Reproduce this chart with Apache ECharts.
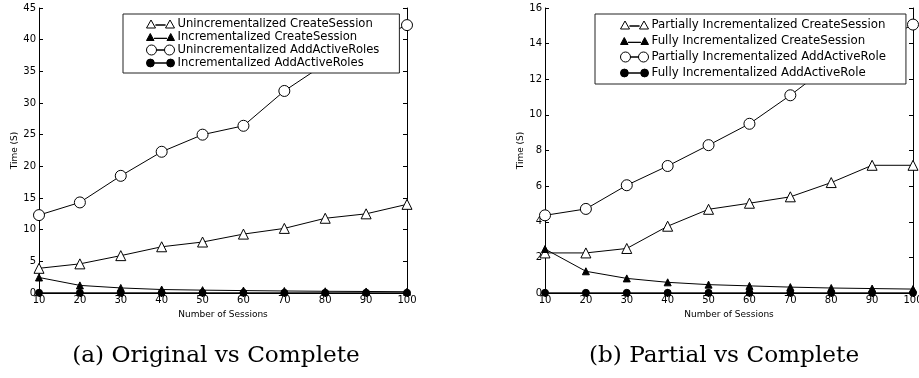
<!DOCTYPE html>
<html><head><meta charset="utf-8">
<script src="https://cdn.jsdelivr.net/npm/echarts@6/dist/echarts.min.js"></script>
<style>html,body{margin:0;padding:0;background:#fff}#c{width:919px;height:378px}</style>
</head><body><div id="c"></div>
<script>
const sessions = [10,20,30,40,50,60,70,80,90,100];
// Panel (a)
const aUnincCreate = [3.9,4.6,5.9,7.3,8.05,9.3,10.2,11.8,12.5,14.0];
const aIncCreate   = [2.45,1.2,0.8,0.55,0.45,0.38,0.32,0.27,0.24,0.2];
const aUnincAdd    = [12.3,14.3,18.5,22.3,25.0,26.4,31.9,36.2,39.4,42.3];
const aIncAdd      = [0.03,0.03,0.03,0.03,0.03,0.03,0.03,0.03,0.03,0.03];
// Panel (b)
const bPartCreate  = [2.25,2.25,2.5,3.75,4.7,5.04,5.4,6.2,7.17,7.17];
const bFullCreate  = [2.47,1.22,0.82,0.6,0.47,0.4,0.33,0.28,0.25,0.22];
const bPartAdd     = [4.36,4.72,6.05,7.13,8.3,9.5,11.1,12.85,13.9,15.07];
const bFullAdd     = [0.01,0.01,0.01,0.01,0.01,0.01,0.01,0.01,0.01,0.01];
const aTicksY = [0,5,10,15,20,25,30,35,40,45];
const bTicksY = [0,2,4,6,8,10,12,14,16];
const namesA = ['Unincrementalized CreateSession','Incrementalized CreateSession','Unincrementalized AddActiveRoles','Incrementalized AddActiveRoles'];
const namesB = ['Partially Incrementalized CreateSession','Fully Incrementalized CreateSession','Partially Incrementalized AddActiveRole','Fully Incrementalized AddActiveRole'];
const captions = ['(a) Original vs Complete','(b) Partial vs Complete'];

const F = 'DejaVu Sans';
const triIcon = 'path://M0,10 L4.5,2 L9,10 Z M9,7 L19,7 Z M19,10 L23.5,2 L28,10 Z';
const triFill = 'path://M1,10 L4.5,3.5 L8,10 Z M8,8 L20,8 Z M20,10 L23.5,3.5 L27,10 Z';
const cirIcon = 'path://M0,5 A5,5 0 1 1 10,5 A5,5 0 1 1 0,5 Z M10,5 L18,5 Z M18,5 A5,5 0 1 1 28,5 A5,5 0 1 1 18,5 Z';
const cirFill = 'path://M1.5,5 A3.5,3.5 0 1 1 8.5,5 A3.5,3.5 0 1 1 1.5,5 Z M8.5,5 L19.5,5 Z M19.5,5 A3.5,3.5 0 1 1 26.5,5 A3.5,3.5 0 1 1 19.5,5 Z';
const icons = [triIcon, triFill, cirIcon, cirFill];

function pair(arr){ return sessions.map((s,i)=>[s,arr[i]]); }
function mk(name, data, gi, sym, filled, size){
  return {name, type:'line', xAxisIndex:gi*2, yAxisIndex:gi*2, data:pair(data),
    symbol:sym, symbolSize:size, showSymbol:true, animation:false, z:3,
    lineStyle:{color:'#000', width:1},
    itemStyle:{color: filled?'#000':'#fff', borderColor:'#000', borderWidth:1}};
}
function xAx(gi){
  return [{type:'value', gridIndex:gi, min:10, max:100, interval:10, position:'bottom',
    name:'Number of Sessions', nameLocation:'middle', nameGap:13,
    nameTextStyle:{fontFamily:F, fontSize:9, color:'#000'},
    axisLine:{lineStyle:{color:'#000', width:1}}, axisTick:{inside:true, length:4, lineStyle:{color:'#000'}},
    axisLabel:{fontFamily:F, fontSize:10, color:'#000', margin:2}, splitLine:{show:false}},
   {type:'value', gridIndex:gi, min:10, max:100, interval:10, position:'top',
    axisLine:{lineStyle:{color:'#000', width:1}}, axisTick:{inside:true, length:4, lineStyle:{color:'#000'}},
    axisLabel:{show:false}, splitLine:{show:false}}];
}
function yAx(gi, max, interval){
  return [{type:'value', gridIndex:gi, min:0, max, interval, position:'left',
    name:'Time (S)', nameLocation:'middle', nameGap: gi===0?19:18,
    nameTextStyle:{fontFamily:F, fontSize:9, color:'#000'},
    axisLine:{show:true, lineStyle:{color:'#000', width:1}}, axisTick:{show:true, inside:true, length:4, lineStyle:{color:'#000'}},
    axisLabel:{fontFamily:F, fontSize:10, color:'#000', margin:3}, splitLine:{show:false}},
   {type:'value', gridIndex:gi, min:0, max, interval, position:'right',
    axisLine:{show:true, lineStyle:{color:'#000', width:1}}, axisTick:{show:true, inside:true, length:4, lineStyle:{color:'#000'}},
    axisLabel:{show:false}, splitLine:{show:false}}];
}
function legendFor(names, left, top, gap, fs, padL, padR, padT, padB){
  return {left, top, orient:'vertical', itemGap:gap, itemWidth:28, itemHeight:10,
    padding:[padT,padR,padB,padL], borderColor:'#222', borderWidth:1, backgroundColor:'#fff', borderRadius:0,
    textStyle:{fontFamily:F, fontSize:fs, color:'#000', padding:[0,0,0,-2]},
    itemStyle:{borderWidth:1, borderColor:'#000'},
    data:names.map((n,i)=>({name:n, icon: icons[i]}))};
}

const chart = echarts.init(document.getElementById('c'), null, {renderer:'canvas'});
chart.setOption({
  animation:false,
  backgroundColor:'#fff',
  title:[
    {text:captions[0], left:216, top:344, padding:0, textAlign:'center', textStyle:{fontFamily:'DejaVu Serif', fontSize:23.2, fontWeight:'normal', color:'#000'}},
    {text:captions[1], left:724, top:344, padding:0, textAlign:'center', textStyle:{fontFamily:'DejaVu Serif', fontSize:23.2, fontWeight:'normal', color:'#000'}}
  ],
  grid:[{left:39, right:512, top:8, bottom:85, containLabel:false, outerBoundsMode:'none'},
        {left:545, right:6, top:8, bottom:85, containLabel:false, outerBoundsMode:'none'}],
  xAxis:[...xAx(0), ...xAx(1)],
  yAxis:[...yAx(0,45,5), ...yAx(1,16,2)],
  legend:[legendFor(namesA,123,14,1,11.6,23,20,4,4), legendFor(namesB,595,14,4,11.8,25,20,5,5)],
  series:[
    mk(namesA[0], aUnincCreate, 0, 'triangle', false, 10),
    mk(namesA[1], aIncCreate, 0, 'triangle', true, 7),
    mk(namesA[2], aUnincAdd, 0, 'circle', false, 11),
    mk(namesA[3], aIncAdd, 0, 'circle', true, 7),
    mk(namesB[0], bPartCreate, 1, 'triangle', false, 10),
    mk(namesB[1], bFullCreate, 1, 'triangle', true, 7),
    mk(namesB[2], bPartAdd, 1, 'circle', false, 11),
    mk(namesB[3], bFullAdd, 1, 'circle', true, 7)
  ]
});
</script></body></html>
